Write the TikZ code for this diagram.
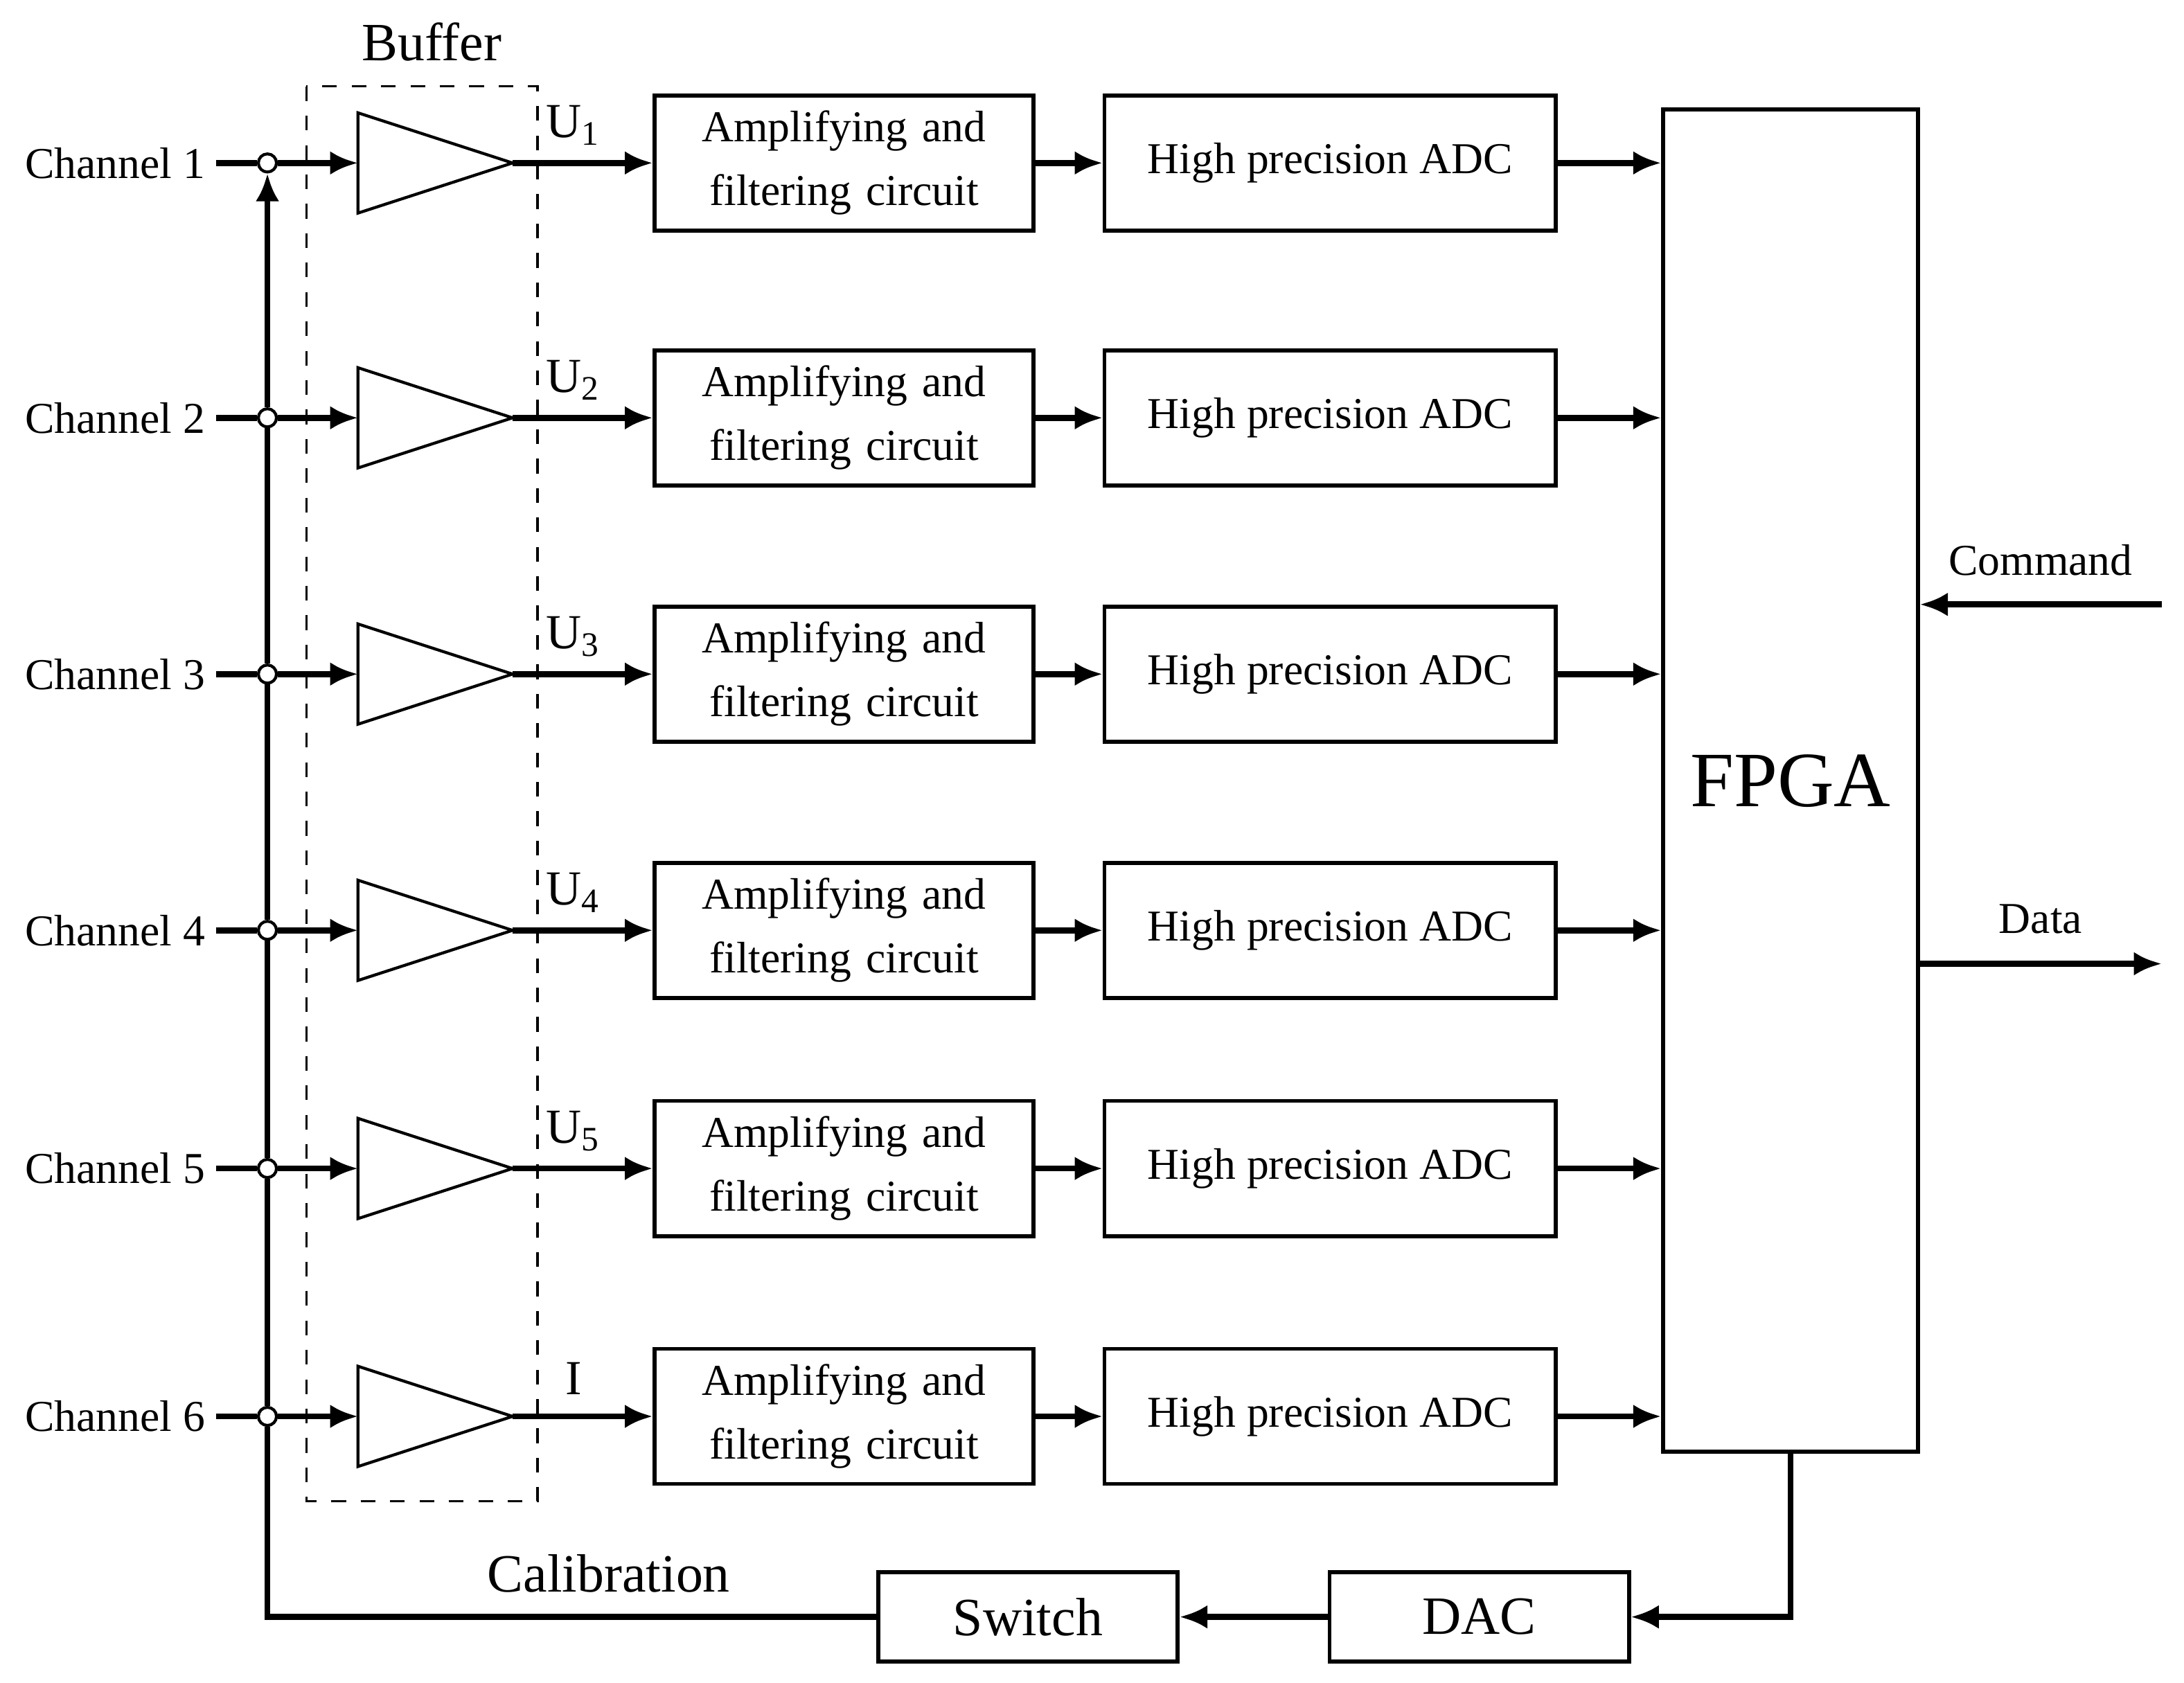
\documentclass[tikz,border=0pt]{standalone}
\usepackage{fontspec}
\setmainfont{Liberation Serif}
\usetikzlibrary{arrows.meta}
\begin{document}
\begin{tikzpicture}[x=0.01cm,y=-0.01cm,
  box/.style={draw,line width=0.8pt,minimum width=#1*0.01cm,inner sep=0pt},
  wire/.style={line width=1.2pt},
  arr/.style={wire,-{Latex[length=2mm,width=1.7mm]}},
  lab/.style={font=\fontsize{9}{11}\selectfont},
  jn/.style={circle,draw,fill=white,line width=0.6pt,inner sep=0pt,minimum size=0.13cm}]
\useasboundingbox (0,0) rectangle (1568,1208);
\node[font=\fontsize{11}{13}\selectfont] (buf) at (310,30) {Buffer};
\draw[dashed,line width=0.5pt] (220,62) rectangle (386,1078);
\node[box=183,minimum height=9.63cm,font=\fontsize{16}{19}\selectfont] (fpga) at (1285.5,560.5) {FPGA};
\foreach \i/\y/\u in {1/117/U\textsubscript{1},2/300/U\textsubscript{2},3/484/U\textsubscript{3},4/668/U\textsubscript{4},5/839/U\textsubscript{5},6/1017/I}{
  \node[lab,anchor=east,inner sep=0pt] (ch\i) at (148,\y) {Channel \i};
  \coordinate (w\i) at (155,\y);
  \node[jn] (j\i) at (192,\y) {};
  \coordinate (tl\i) at (257,\y);
  \coordinate (tt\i) at (368,\y);
  \draw[line width=0.6pt] (257,\y-36) -- (tt\i) -- (257,\y+36) -- cycle;
  \node[box=272,minimum height=0.97cm,lab,align=center,text width=2.6cm] (amp\i) at (606,\y) {Amplifying and\\[2pt]filtering circuit};
  \node[box=324,minimum height=0.97cm,lab] (adc\i) at (955,\y) {High precision ADC};
  \node[font=\fontsize{10}{12}\selectfont] (u\i) at (412,\y-27) {\u};
  \draw[wire] (w\i) -- (j\i);
  \draw[arr] (j\i) -- (tl\i);
  \draw[arr] (tt\i) -- (amp\i);
  \draw[arr] (amp\i) -- (adc\i);
  \draw[arr] (adc\i) -- (adc\i.east -| fpga.west);
}
\node[box=215,minimum height=0.64cm,font=\fontsize{11}{13}\selectfont] (dac) at (1062,1161) {DAC};
\node[box=215,minimum height=0.64cm,font=\fontsize{11}{13}\selectfont] (sw) at (738,1161) {Switch};
\node[font=\fontsize{11}{13}\selectfont] (cal) at (437,1130) {Calibration};
\draw[arr] (fpga.south) |- (dac.east);
\draw[arr] (dac) -- (sw);
\draw[wire] (sw.west) -| (j6.south);
\foreach \a/\b in {6/5,5/4,4/3,3/2}{\draw[wire] (j\a.north) -- (j\b.south);}
\draw[arr] (j2.north) -- (j1.south);
\coordinate (cmdin) at (1552,434);
\coordinate (dout) at (1552,692);
\node[lab] (cmd) at (1465,402) {Command};
\node[lab] (data) at (1465,660) {Data};
\draw[arr] (cmdin) -- (cmdin -| fpga.east);
\draw[arr] (dout -| fpga.east) -- (dout);
\end{tikzpicture}
\end{document}
